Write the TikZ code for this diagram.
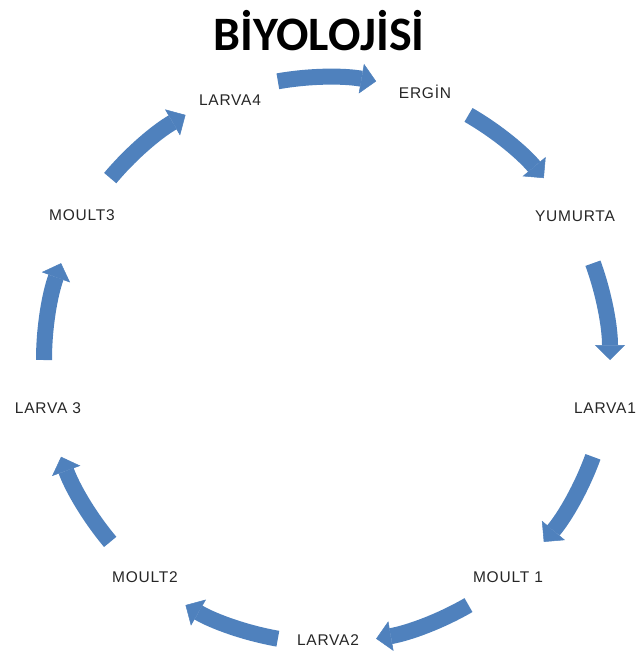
\documentclass[tikz,border=0pt]{standalone}
\usepackage{fontspec}
\setmainfont{Liberation Sans}
\newfontfamily\titlefont{Carlito}
\newfontfamily\stagefont[LetterSpace=5]{Liberation Sans}
\usetikzlibrary{arrows.meta}

\definecolor{cycblue}{RGB}{79,129,189}

\begin{document}
\begin{tikzpicture}[
    x=1pt, y=-1pt,
    stage/.style={font=\stagefont\fontsize{15.5}{17}\selectfont, text=black!85, inner sep=1pt},
    cyc/.style={draw=cycblue, line width=16pt,
      -{Triangle[width=30pt, length=15pt, line width=0.5pt, fill=cycblue]}}
  ]
    \useasboundingbox (0,0) rectangle (638,655);

    %=== baslik ===%
    \node[font=\titlefont\bfseries\fontsize{48}{50}\selectfont] (title) at (319,31) {BİYOLOJİSİ};

    %=== evreler ===%
    \node[stage] (ergin)   at (425, 92) {ERGİN};
    \node[stage] (yumurta) at (575,216) {YUMURTA};
    \node[stage] (larva1)  at (605,408) {LARVA1};
    \node[stage] (moult1)  at (508,577) {MOULT 1};
    \node[stage] (larva2)  at (328,640) {LARVA2};
    \node[stage] (moult2)  at (145,577) {MOULT2};
    \node[stage] (larva3)  at ( 48,408) {LARVA 3};
    \node[stage] (moult3)  at ( 82,215) {MOULT3};
    \node[stage] (larva4)  at (230,100) {LARVA4};

    %=== dongu oklari (saat yonu) ===%
    \coordinate (c) at (327,360);
    \def\rad{283}
    \foreach \ang in {-90,-50,-10,30,70,110,150,190,230}{
      \draw[cyc] ([shift={(\ang-10:\rad)}]c)
        arc[start angle=\ang-10, end angle=\ang+10, radius=\rad];
    }

\end{tikzpicture}
\end{document}
